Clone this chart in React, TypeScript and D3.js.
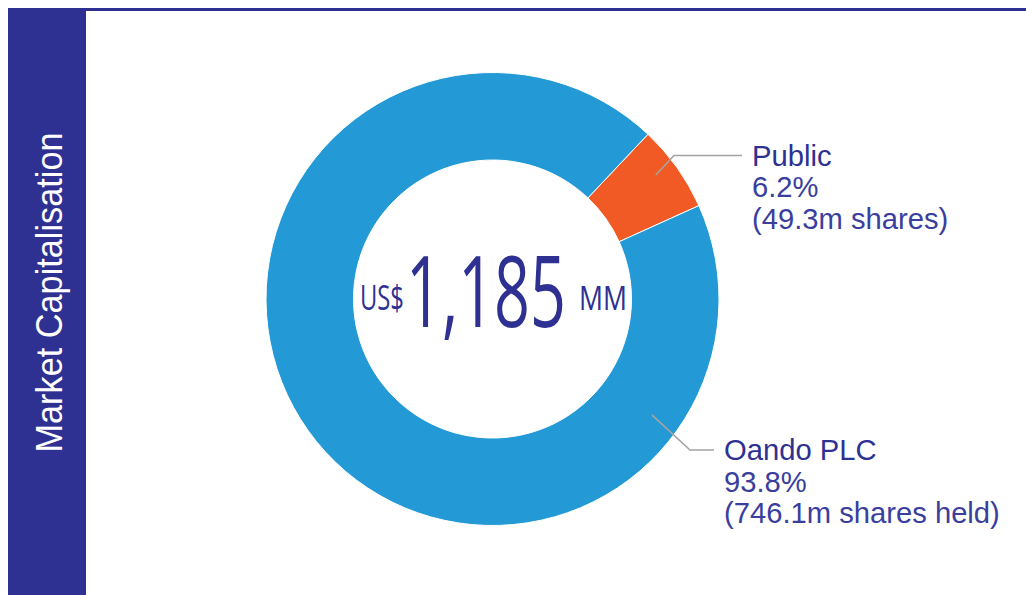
import React, { useLayoutEffect, useRef, useState } from 'react';
import * as d3 from 'd3';

// ---- data ----
const categories = ['Public', 'Oando PLC'];
const sharePct = [6.2, 93.8];
const shareText = ['6.2%', '93.8%'];
const detailText = ['(49.3m shares)', '(746.1m shares held)'];
const sliceColors = ['#f15a24', '#239ad6'];
const totalPrefix = 'US$';
const totalValue = '1,185';
const totalSuffix = 'MM';
const sideTitle = 'Market Capitalisation';

// ---- layout ----
const W = 1026;
const H = 595;
const cx = 492.5;
const cy = 299;
const rOuter = 226.5;
const rInner = 139;
const NAVY = '#2e3192';
const BODY = '#3a3e9d';

// leader-line layout per category
const anchorAngleDeg = [52.8, 126];
const anchorRadius = [205, 197];
const elbowX = [674, 690];
const labelX = [752, 724];
const titleBaseline = [165.5, 460];
const lineGap = 31.5;

const deg = Math.PI / 180;

function FitText(props: {
  x: number;
  y: number;
  width: number;
  fontSize: number;
  text: string;
}) {
  const ref = useRef<SVGTextElement>(null);
  const [sx, setSx] = useState(1);
  useLayoutEffect(() => {
    if (ref.current) {
      const w = ref.current.getComputedTextLength();
      if (w > 0) setSx(props.width / w);
    }
  }, [props.width, props.text, props.fontSize]);
  return (
    <text
      ref={ref}
      transform={`translate(${props.x},${props.y}) scale(${sx},1)`}
      fontSize={props.fontSize}
    >
      {props.text}
    </text>
  );
}

export default function App() {
  const midPublic = 54.5 * deg;
  const publicSpan = (sharePct[0] / d3.sum(sharePct)) * 2 * Math.PI;
  const start = midPublic - publicSpan / 2;

  const pie = d3
    .pie<number>()
    .sort(null)
    .value((d) => d)
    .startAngle(start)
    .endAngle(start + 2 * Math.PI);
  const arcs = pie(sharePct);
  const arc = d3.arc<d3.PieArcDatum<number>>().innerRadius(rInner).outerRadius(rOuter);
  const line = d3.line<[number, number]>();

  return (
    <svg
      width={W}
      height={H}
      style={{ position: 'absolute', left: 0, top: 0, background: '#fff' }}
    >
      {/* side bar */}
      <rect x={8} y={8} width={78} height={H - 8} fill={NAVY} />
      <rect x={8} y={8} width={W - 8} height={3} fill={NAVY} />
      <text
        transform={`translate(62,292.5) rotate(-90)`}
        textAnchor="middle"
        fill="#fff"
        fontFamily="'Liberation Sans', Arial, sans-serif"
        fontSize={37}
        textLength={320}
        lengthAdjust="spacingAndGlyphs"
      >
        {sideTitle}
      </text>

      {/* donut */}
      <g transform={`translate(${cx},${cy})`}>
        {arcs.map((a, i) => (
          <path key={i} d={arc(a) || ''} fill={sliceColors[i]} stroke="#fff" strokeWidth={1} />
        ))}
      </g>

      {/* center total */}
      <g fill={NAVY} fontFamily="'Open Sans', 'Noto Sans', sans-serif" fontWeight={400}>
        <FitText x={360} y={310} width={44} fontSize={35} text={totalPrefix} />
        <FitText x={406} y={326.5} width={160} fontSize={99} text={totalValue} />
        <FitText x={579} y={310} width={48} fontSize={33} text={totalSuffix} />
      </g>

      {/* labels with leader lines */}
      {categories.map((c, i) => {
        const a = anchorAngleDeg[i] * deg;
        const ax = cx + anchorRadius[i] * Math.sin(a);
        const ay = cy - anchorRadius[i] * Math.cos(a);
        const ly = titleBaseline[i] - 10;
        const pts: [number, number][] = [
          [ax, ay],
          [elbowX[i], ly],
          [labelX[i] - 10, ly],
        ];
        return (
          <g key={c}>
            <path d={line(pts) || ''} fill="none" stroke="#a3a3a3" strokeWidth={1.6} />
            <g fontFamily="'Liberation Sans', Arial, sans-serif" fontSize={29.2}>
              <text x={labelX[i]} y={titleBaseline[i]} fill={NAVY}>
                {c}
              </text>
              <text x={labelX[i]} y={titleBaseline[i] + lineGap} fill={BODY}>
                {shareText[i]}
              </text>
              <text x={labelX[i]} y={titleBaseline[i] + 2 * lineGap} fill={BODY}>
                {detailText[i]}
              </text>
            </g>
          </g>
        );
      })}
    </svg>
  );
}
